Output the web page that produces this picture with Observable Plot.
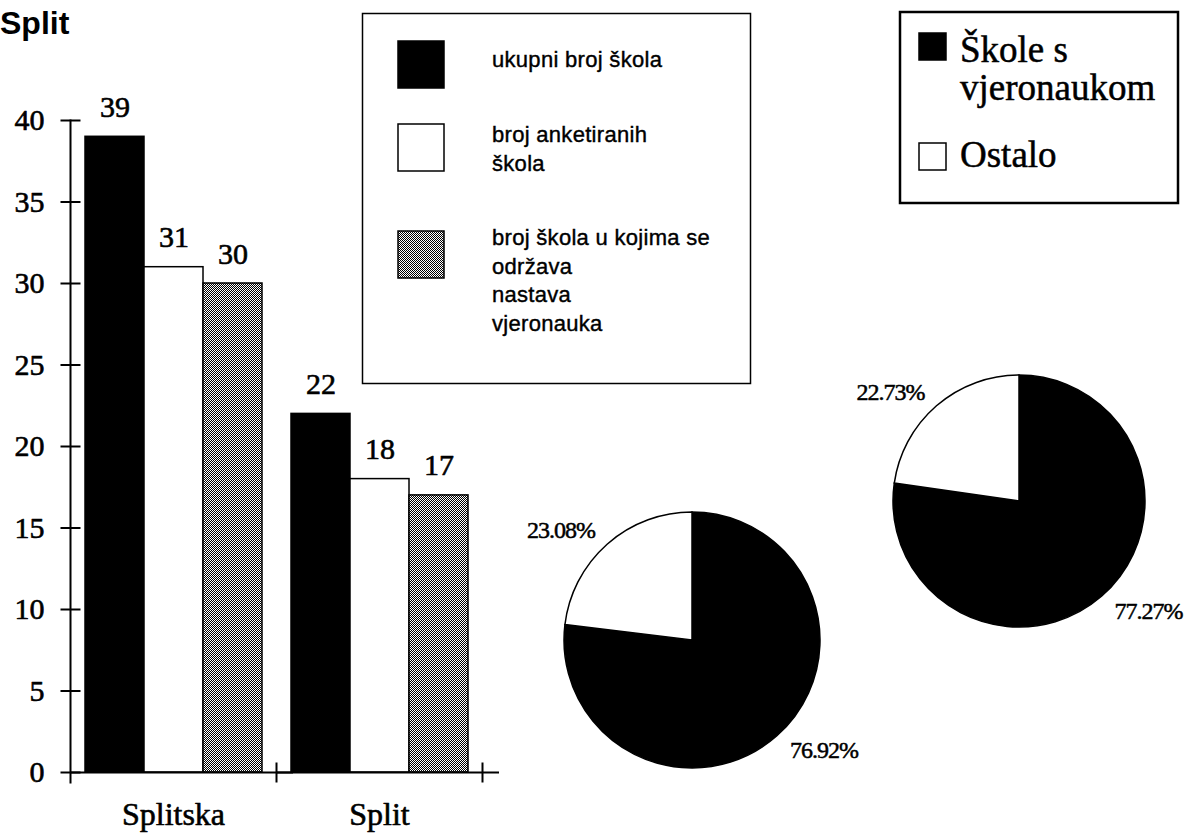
<!DOCTYPE html>
<html><head><meta charset="utf-8">
<script src="https://cdn.jsdelivr.net/npm/d3@7"></script>
<script src="https://cdn.jsdelivr.net/npm/@observablehq/plot@0.6"></script>
<style>
html,body{margin:0;padding:0;background:#fff;}
#root{position:relative;width:1187px;height:834px;overflow:hidden;background:#fff;}
#root svg{position:absolute;max-width:none;}
</style></head><body><div id="root"></div>
<script>
// ---------- data ----------
const title = "Split";
const categories = ["Splitska", "Split"];
const seriesNames = ["ukupni broj škola", "broj anketiranih škola", "broj škola u kojima se održava nastava vjeronauka"];
const legendLines = [["ukupni broj škola"], ["broj anketiranih", "škola"], ["broj škola u kojima se", "održava", "nastava", "vjeronauka"]];
const totalSchools = [39, 22];
const surveyedSchools = [31, 18];
const religiousSchools = [30, 17];
const yTicks = [0, 5, 10, 15, 20, 25, 30, 35, 40];
const pieCategories = ["Škole s vjeronaukom", "Ostalo"];
const pieLegendLines = [["Škole s", "vjeronaukom"], ["Ostalo"]];
const pieSplitska = [76.92, 23.08];
const pieSplit = [77.27, 22.73];

const SERIF = "'Liberation Serif','Times New Roman',Times,serif";
const SANS = "'Liberation Sans',Arial,Helvetica,sans-serif";
const root = document.getElementById("root");

// ---------- bar chart ----------
const seriesValues = [totalSchools, surveyedSchools, religiousSchools];
const rows = categories.flatMap((c, i) => seriesNames.map((s, j) => ({cat: c, series: s, value: seriesValues[j][i]})));
const barFills = ["#000", "#fff", "url(#dither)"];

const hline = {draw(ctx, size) { const r = Math.sqrt(size / Math.PI); ctx.moveTo(-r, 0); ctx.lineTo(r, 0); }};
const vline = {draw(ctx, size) { const r = Math.sqrt(size / Math.PI); ctx.moveTo(0, -r); ctx.lineTo(0, r); }};

const bar = Plot.plot({
  width: 520, height: 834,
  marginTop: 120, marginBottom: 62, marginLeft: 69, marginRight: 38,
  fx: {domain: categories, padding: 0, axis: null, label: null},
  x: {domain: seriesNames, paddingInner: 0, paddingOuter: 0.245, axis: null},
  y: {domain: [0, 40], axis: null},
  color: {type: "ordinal", domain: seriesNames, range: barFills},
  style: {fontFamily: SERIF, color: "#000", background: "transparent"},
  marks: [
    Plot.barY(rows, {fx: "cat", x: "series", y: "value", fill: "series", stroke: "#000", strokeWidth: 1.5}),
    Plot.text(rows, {fx: "cat", x: "series", y: "value", text: "value", dy: -20, lineAnchor: "bottom", fontSize: 30, fill: "#000", stroke: "#000", strokeWidth: 0.6}),
    Plot.ruleY([0], {insetRight: -17, strokeWidth: 2, stroke: "#000"}),
    Plot.frame({anchor: "left", facetAnchor: "left", insetBottom: -10, strokeWidth: 2, stroke: "#000"}),
    Plot.axisY({ticks: yTicks, tickSize: 0, tickPadding: 26, fontSize: 30, label: null, fill: "#000", textStroke: "#000", textStrokeWidth: 0.6}),
    Plot.dot(yTicks, {y: d => d, frameAnchor: "left", symbol: hline, r: 10, fill: "none", stroke: "#000", strokeWidth: 2, facetAnchor: "left"}),
    Plot.dot([0], {y: d => d, frameAnchor: "right", symbol: vline, r: 10, fill: "none", stroke: "#000", strokeWidth: 2}),
    Plot.axisFx({anchor: "bottom", tickSize: 0, tickPadding: 30, fontSize: 32, label: null, fill: "#000", textStroke: "#000", textStrokeWidth: 0.6})
  ]
});
bar.style.left = "0px"; bar.style.top = "0px";
{
  const defs = d3.select(bar).insert("defs", ":first-child");
  const pat = defs.append("pattern").attr("id", "dither").attr("width", 2).attr("height", 2).attr("patternUnits", "userSpaceOnUse");
  pat.append("rect").attr("width", 2).attr("height", 2).attr("fill", "#fff");
  pat.append("rect").attr("width", 1).attr("height", 1).attr("fill", "#000");
  pat.append("rect").attr("x", 1).attr("y", 1).attr("width", 1).attr("height", 1).attr("fill", "#000");
}
root.appendChild(bar);

// ---------- pies ----------
const pieFills = ["#000", "#fff"];
function piePlot(values, cx, cy, r, m) {
  const data = pieCategories.map((c, i) => ({cat: c, value: values[i]}));
  const arcs = d3.pie().sort(null).value(d => d.value)(data);
  const labels = arcs.map(a => {
    const mid = (a.startAngle + a.endAngle) / 2;
    return {x: 1.15 * Math.sin(mid), y: 1.15 * Math.cos(mid), text: d3.format(".2f")(a.data.value) + "%", right: Math.sin(mid) >= 0};
  });
  const p = Plot.plot({
    width: 2 * r + 2 * m, height: 2 * r + 2 * m,
    margin: m,
    x: {domain: [-1, 1], axis: null},
    y: {domain: [-1, 1], axis: null},
    style: {fontFamily: SERIF, color: "#000", background: "transparent", letterSpacing: "-1px"},
    marks: [
      (index, scales) => {
        const {x, y} = scales;
        const R = x(1) - x(0);
        const g = d3.create("svg:g").attr("transform", `translate(${x(0)},${y(0)})`);
        const arc = d3.arc().innerRadius(0).outerRadius(R);
        g.selectAll("path").data(arcs).join("path")
          .attr("d", arc)
          .attr("fill", (d, i) => pieFills[i])
          .attr("stroke", "#000").attr("stroke-width", 1.5);
        return g.node();
      },
      Plot.text(labels.filter(d => d.right), {x: "x", y: "y", text: "text", textAnchor: "start", lineAnchor: "middle", fontSize: 24, fill: "#000", stroke: "#000", strokeWidth: 0.5}),
      Plot.text(labels.filter(d => !d.right), {x: "x", y: "y", text: "text", textAnchor: "end", lineAnchor: "middle", fontSize: 24, fill: "#000", stroke: "#000", strokeWidth: 0.5})
    ]
  });
  p.style.left = (cx - r - m) + "px";
  p.style.top = (cy - r - m) + "px";
  root.appendChild(p);
}
piePlot(pieSplitska, 692, 640, 128, 60);
piePlot(pieSplit, 1019, 501, 126, 60);

// ---------- title & legends ----------
const ov = d3.select(root).append("svg").attr("width", 1187).attr("height", 834)
  .style("left", "0px").style("top", "0px").style("pointer-events", "none");

ov.append("text").attr("x", 0).attr("y", 34).attr("font-family", SANS).attr("font-weight", "bold")
  .attr("font-size", 32).attr("fill", "#000").text(title);

// legend 1 (bars)
ov.append("rect").attr("x", 362.5).attr("y", 13.5).attr("width", 388).attr("height", 370)
  .attr("fill", "none").attr("stroke", "#000").attr("stroke-width", 1.5);
const swY = [41, 124, 231];
const txtY = [67, 142, 245];
seriesNames.forEach((s, i) => {
  ov.append("rect").attr("x", 398).attr("y", swY[i]).attr("width", 46).attr("height", 47)
    .attr("fill", barFills[i]).attr("stroke", "#000").attr("stroke-width", 1.5);
  legendLines[i].forEach((line, k) => {
    ov.append("text").attr("x", 492).attr("y", txtY[i] + k * 28.5).attr("font-family", SANS)
      .attr("font-size", 22).attr("letter-spacing", "0.3px").attr("fill", "#000")
      .attr("stroke", "#000").attr("stroke-width", 0.4).text(line);
  });
});

// legend 2 (pies)
ov.append("rect").attr("x", 900).attr("y", 12).attr("width", 278).attr("height", 191)
  .attr("fill", "none").attr("stroke", "#000").attr("stroke-width", 2.5);
const pswY = [33, 143];
const ptxtY = [62, 167];
pieCategories.forEach((c, i) => {
  ov.append("rect").attr("x", 919).attr("y", pswY[i]).attr("width", 27).attr("height", 27)
    .attr("fill", pieFills[i]).attr("stroke", "#000").attr("stroke-width", 1.5);
  pieLegendLines[i].forEach((line, k) => {
    ov.append("text").attr("x", 960).attr("y", ptxtY[i] + k * 38).attr("font-family", SERIF)
      .attr("font-size", 37).attr("fill", "#000").attr("stroke", "#000").attr("stroke-width", 0.5).text(line);
  });
});
</script></body></html>
